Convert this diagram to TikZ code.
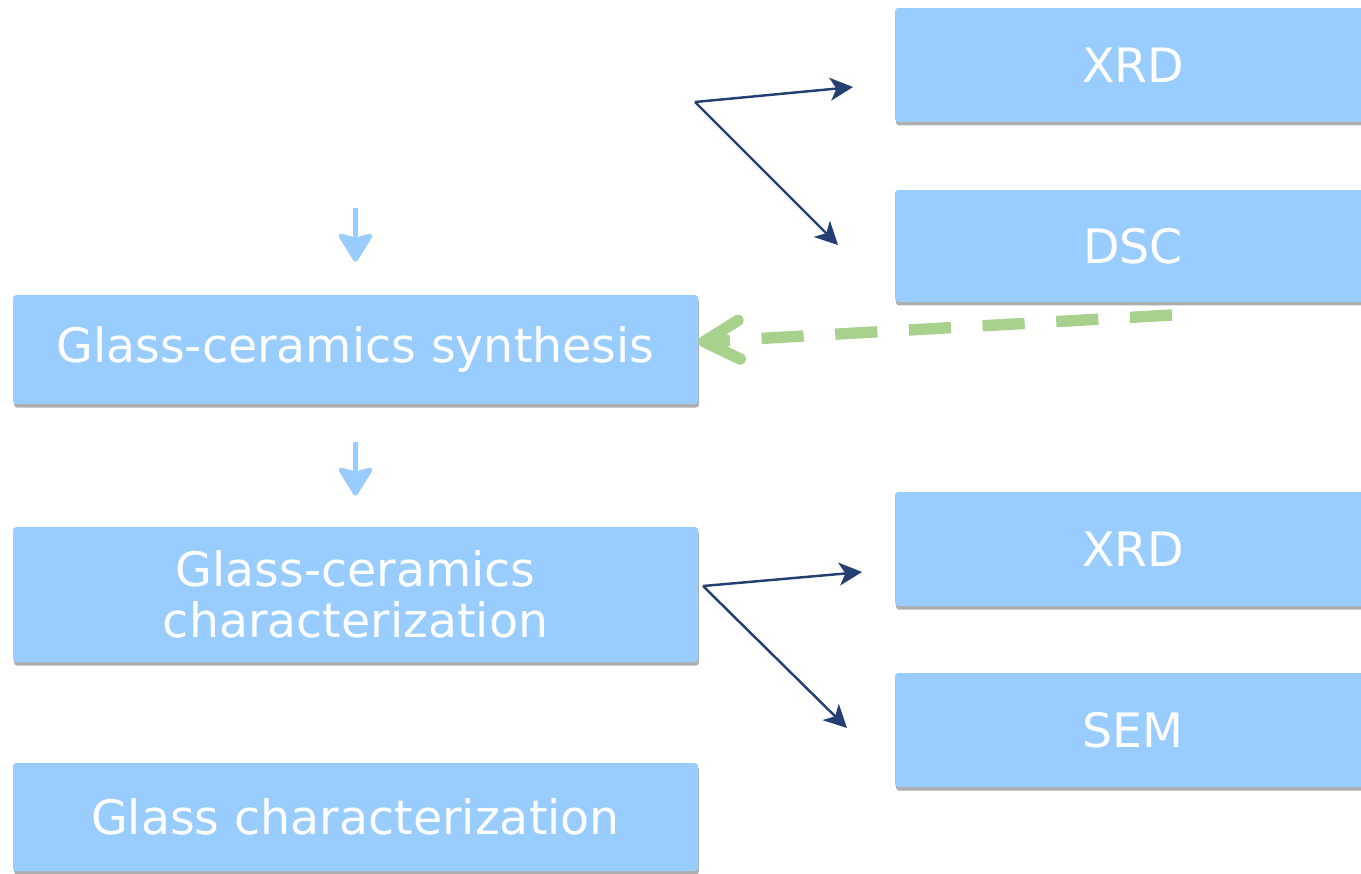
\documentclass[tikz,border=0pt]{standalone}
\usepackage{fontspec}
\setmainfont{DejaVu Sans}
\usetikzlibrary{arrows.meta,shadows}
\definecolor{boxblue}{HTML}{99CCFF}
\definecolor{linkblue}{RGB}{36,64,114}
\definecolor{backgreen}{HTML}{A9D18E}
\begin{document}
\begin{tikzpicture}[x=0.02cm,y=-0.02cm,
    stage/.style={fill=boxblue,rounded corners=0.06cm,text=white,align=center,inner sep=0pt,
        font=\fontsize{27}{29}\selectfont,
        drop shadow={shadow xshift=0.02cm,shadow yshift=-0.07cm,opacity=0.45,fill=black!70}},
    leftstage/.style={stage,minimum width=13.7cm},
    rightstage/.style={stage,minimum width=9.52cm},
    link/.style={draw=linkblue,line width=1.4pt,-{Stealth[length=13pt,width=13pt,inset=3.5pt]}},
    flow/.style={draw=boxblue,line width=2.8pt,-{Stealth[length=18pt,width=22pt,inset=3pt,round]}},
    back/.style={draw=backgreen,line width=6.5pt,dash pattern=on 24pt off 18pt,
        -{Straight Barb[length=20pt,width=22pt,round]}}]
        %% Frame
        \useasboundingbox (0,0) rectangle (1361,873);
        %% Left column
        \node[leftstage,minimum height=2.18cm] (synth) at (355.5,349.5) {Glass-ceramics synthesis};
        \node[leftstage,minimum height=2.7cm] (gcchar) at (355.5,594.5) {Glass-ceramics\\characterization};
        \node[leftstage,minimum height=2.16cm] (gchar) at (355.5,817) {Glass characterization};
        %% Right column
        \node[rightstage,minimum height=2.28cm] (xrdtop) at (1133,65) {XRD};
        \node[rightstage,minimum height=2.24cm] (dsc) at (1133,246) {DSC};
        \node[rightstage,minimum height=2.28cm] (xrdlow) at (1133,549) {XRD};
        \node[rightstage,minimum height=2.28cm] (sem) at (1133,730) {SEM};
        %% Downward flow
        \coordinate (flowtop) at (355.5,208);
        \draw[flow] (flowtop) -- ([yshift=0.66cm]synth.north);
        \draw[flow] ([yshift=-0.76cm]synth.south) -- ([yshift=0.62cm]gcchar.north);
        %% Forks to the techniques
        \coordinate (forktop) at (695,102);
        \coordinate (toxrdtop) at (853,87);
        \coordinate (todsc) at (838,245);
        \draw[link] (forktop) -- (toxrdtop);
        \draw[link] (forktop) -- (todsc);
        \coordinate (forklow) at (703,586);
        \coordinate (toxrdlow) at (862,572);
        \coordinate (tosem) at (847,728);
        \draw[link] (forklow) -- (toxrdlow);
        \draw[link] (forklow) -- (tosem);
        %% Feedback from DSC
        \coordinate (dscback) at (1172,315);
        \draw[back] (dscback) -- ([yshift=0.15cm]synth.east);
    \end{tikzpicture}
\end{document}
